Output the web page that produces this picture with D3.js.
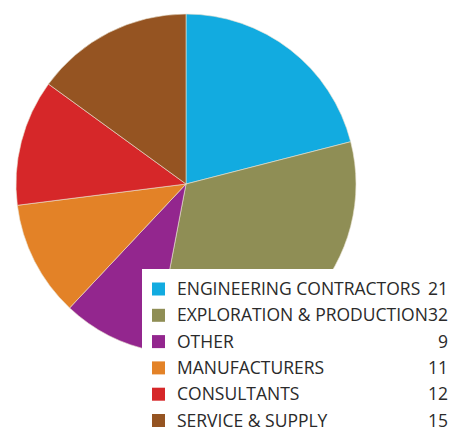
<!DOCTYPE html>
<html>
<head>
<meta charset="utf-8">
<script src="https://cdn.jsdelivr.net/npm/d3@7"></script>
<style>
  html, body { margin: 0; padding: 0; background: #fff; }
  svg { display: block; }
</style>
</head>
<body>
<div id="chart"></div>
<script>
// Data
const categories = ['ENGINEERING CONTRACTORS', 'EXPLORATION & PRODUCTION', 'OTHER',
                    'MANUFACTURERS', 'CONSULTANTS', 'SERVICE & SUPPLY'];
const values = [21, 32, 9, 11, 12, 15];
const colors = ['#12abe0', '#8f8e55', '#93268e', '#e38227', '#d62729', '#955422'];

const width = 451, height = 428;
const cx = 186, cy = 184, radius = 170;

const svg = d3.select('#chart')
    .append('svg')
    .attr('width', width)
    .attr('height', height);

const table = categories.map((c, i) => ({ name: c, value: values[i], color: colors[i] }));

const pie = d3.pie()
    .sort(null)
    .value(d => d.value);

const arc = d3.arc()
    .innerRadius(0)
    .outerRadius(radius);

// Pie slices
svg.append('g')
    .attr('transform', `translate(${cx},${cy})`)
    .selectAll('path')
    .data(pie(table))
    .enter()
    .append('path')
    .attr('d', arc)
    .attr('fill', d => d.data.color)
    .attr('stroke', '#e9e2d2')
    .attr('stroke-width', 0.6);

// Legend box over the pie
const legend = svg.append('g');
legend.append('rect')
    .attr('x', 142)
    .attr('y', 269)
    .attr('width', width - 142)
    .attr('height', height - 269)
    .attr('fill', '#fff');

const rowY = d3.scaleBand()
    .domain(categories)
    .range([269, 269 + 26.3 * categories.length]);

const rows = legend.selectAll('.row')
    .data(table)
    .enter()
    .append('g')
    .attr('class', 'row')
    .attr('transform', d => `translate(0,${rowY(d.name)})`);

rows.append('rect')
    .attr('x', 152)
    .attr('y', 13.5)
    .attr('width', 13)
    .attr('height', 13)
    .attr('fill', d => d.color);

rows.append('text')
    .attr('x', 177)
    .attr('y', 26)
    .attr('font-family', 'Open Sans')
    .attr('font-size', 17.5)
    .attr('fill', '#2a2a2a')
    .text(d => d.name);

rows.append('text')
    .attr('x', 448)
    .attr('y', 26)
    .attr('text-anchor', 'end')
    .attr('font-family', 'Open Sans')
    .attr('font-size', 17.5)
    .attr('fill', '#2a2a2a')
    .text(d => d.value);
</script>
</body>
</html>
